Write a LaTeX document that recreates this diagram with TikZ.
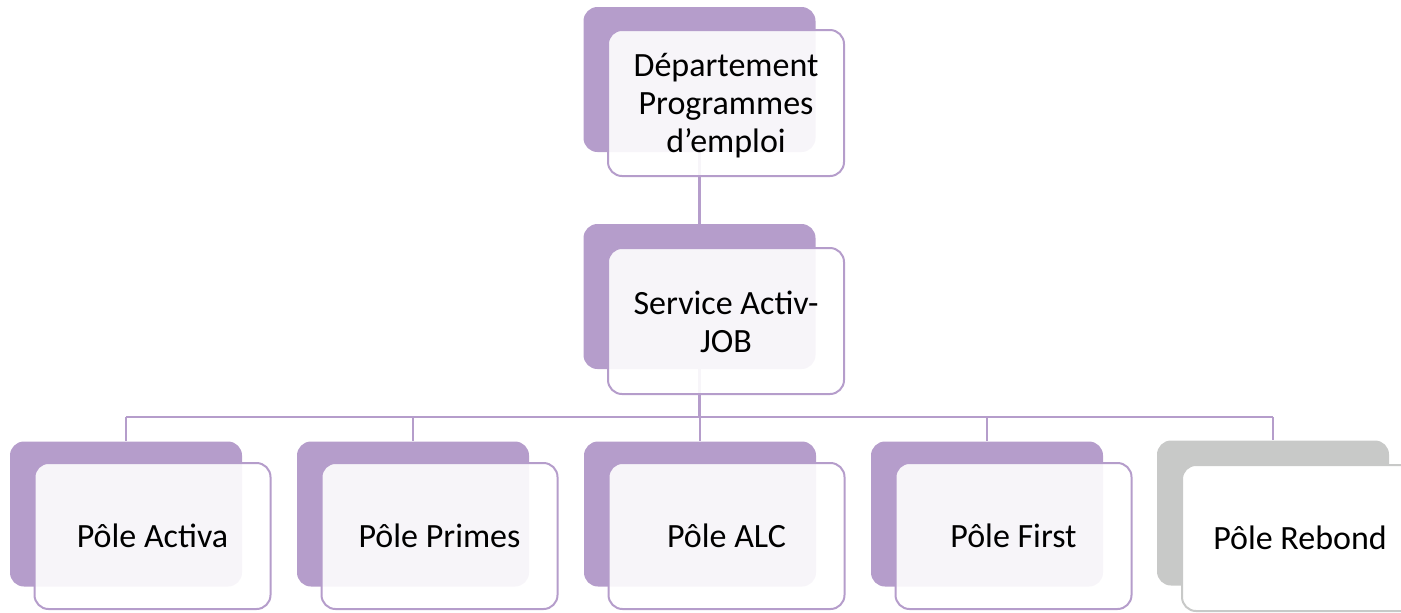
\documentclass[tikz,border=0pt]{standalone}
\usepackage{fontspec}
\setmainfont{Carlito}
\definecolor{lav}{RGB}{181,157,203}
\definecolor{grayb}{RGB}{200,201,200}
\tikzset{
  backbox/.style={draw=none, fill=lav, rounded corners=7pt, minimum width=116pt, minimum height=72.5pt, inner sep=0pt},
  frontbox/.style={draw=lav, line width=1pt, fill=white, fill opacity=0.9, text opacity=1, rounded corners=7pt, minimum width=118pt, minimum height=73pt, inner sep=0pt, font=\fontsize{17}{19}\selectfont, align=center},
  boxtext/.style={inner sep=0pt, font=\fontsize{17}{19}\selectfont, align=center},
  conn/.style={draw=lav, line width=1.25pt},
}
\begin{document}
\begin{tikzpicture}[x=0.5pt, y=-0.5pt]
\useasboundingbox (0,0) rectangle (1401,612);
\clip (0,0) rectangle (1401,612);
% connector junctions
\coordinate (j0) at (699.5,417);
\coordinate (j1) at (126,417);
\coordinate (j5) at (1273,417);
% back boxes
\node[backbox] (b0) at (699.5,79.5) {};
\node[backbox] (b1) at (699.5,296.5) {};
\node[backbox] (ba) at (126,514) {};
\node[backbox] (bb) at (413,514) {};
\node[backbox] (bc) at (700,514) {};
\node[backbox] (bd) at (987,514) {};
\node[backbox, fill=grayb] (be) at (1273,513) {};
% connectors
\draw[conn] (b0.south) -- (b1.north);
\draw[conn] (b1.south) -- (j0);
\draw[conn] (j1) -- (j5);
\draw[conn] (j1) -- (ba.north);
\draw[conn] (bb.north |- j0) -- (bb.north);
\draw[conn] (bc.north |- j0) -- (bc.north);
\draw[conn] (bd.north |- j0) -- (bd.north);
\draw[conn] (j5) -- (be.north);
% front boxes
\node[frontbox] (f0) at (726,103) {};
\node[boxtext] (t0) at (726,106) {Département\\Programmes\\d’emploi};
\node[frontbox] (f1) at (726,321) {};
\node[boxtext] (t1) at (726,322) {Service Activ-\\JOB};
\node[frontbox] (fa) at (152.5,536) {Pôle Activa};
\node[frontbox] (fb) at (439.5,536) {Pôle Primes};
\node[frontbox] (fc) at (726.5,536) {Pôle ALC};
\node[frontbox] (fd) at (1013.5,536) {Pôle First};
\node[frontbox, draw=grayb, fill opacity=1] (fe) at (1300,538) {Pôle Rebond};
\end{tikzpicture}
\end{document}
